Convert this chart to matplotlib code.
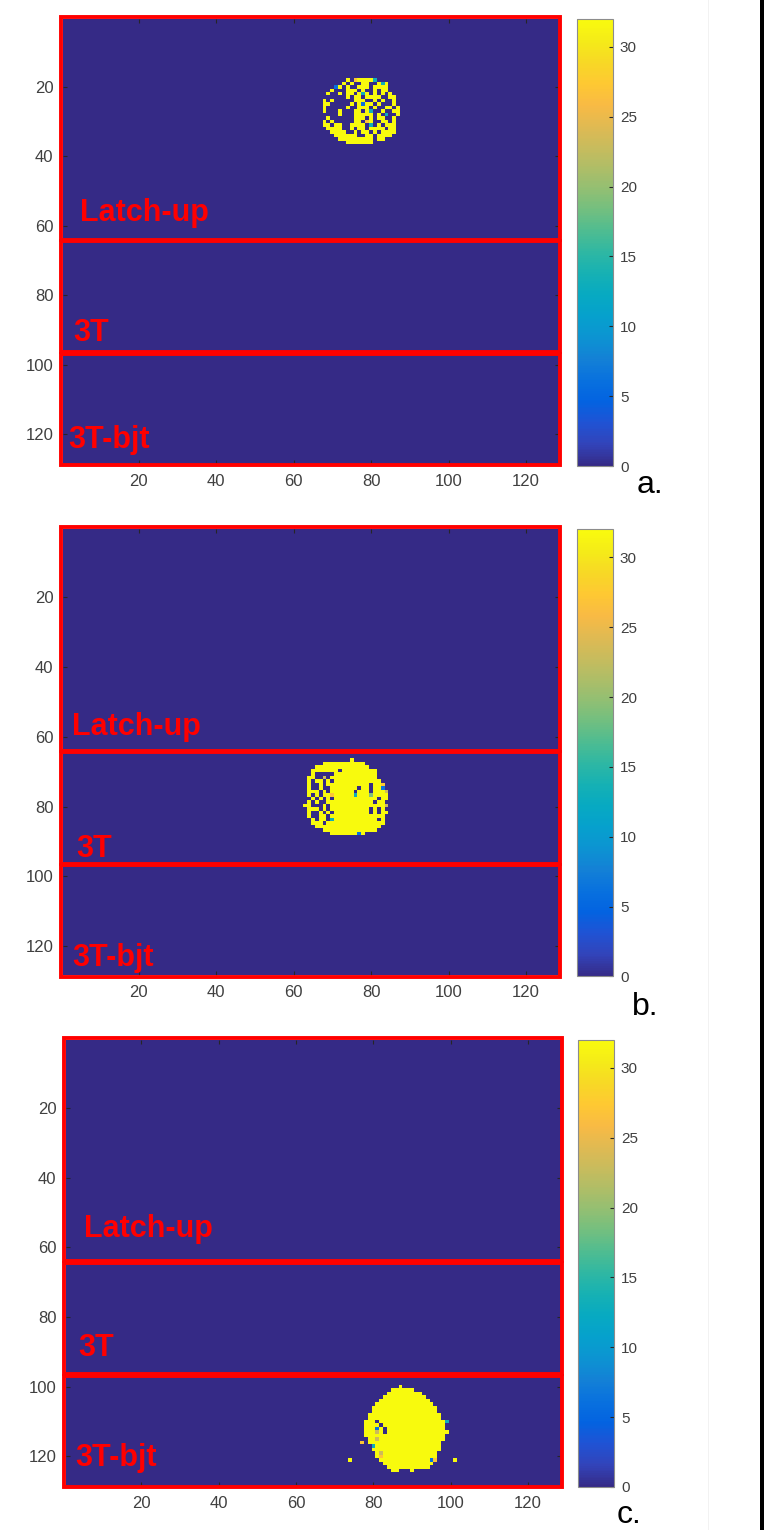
import numpy as np
import matplotlib
matplotlib.use("Agg")
from matplotlib import pyplot as plt
from matplotlib.colors import LinearSegmentedColormap
from matplotlib.patches import Rectangle

plt.rcParams["font.family"] = ["Liberation Sans", "DejaVu Sans"]

# MATLAB parula, sampled
PARULA = [
    (0.2081, 0.1663, 0.5292),
    (0.1959, 0.2645, 0.7279),
    (0.1253, 0.3242, 0.8303),
    (0.0117, 0.3875, 0.8820),
    (0.0329, 0.4430, 0.8720),
    (0.0779, 0.5040, 0.8384),
    (0.0487, 0.5772, 0.8228),
    (0.0239, 0.6287, 0.8038),
    (0.0267, 0.6642, 0.7607),
    (0.0843, 0.6928, 0.7062),
    (0.1801, 0.7177, 0.6424),
    (0.3022, 0.7376, 0.5712),
    (0.4420, 0.7481, 0.5033),
    (0.5709, 0.7485, 0.4494),
    (0.6834, 0.7435, 0.4044),
    (0.7858, 0.7356, 0.3633),
    (0.8824, 0.7274, 0.3217),
    (0.9739, 0.7314, 0.2666),
    (0.9955, 0.7861, 0.1967),
    (0.9697, 0.8481, 0.1475),
    (0.9598, 0.9218, 0.0948),
    (0.9763, 0.9831, 0.0538),
]
parula = LinearSegmentedColormap.from_list("parula", PARULA)

N_PIX = 128
V_MAX = 32
AXIS_TICKS = [20, 40, 60, 80, 100, 120]
CBAR_TICKS = [0, 5, 10, 15, 20, 25, 30]
REGION_NAMES = ["Latch-up", "3T", "3T-bjt"]
PANEL_LETTERS = ["a.", "b.", "c."]

# pixel code -> counts
PIXEL_VALUES = {".": 0, "#": 32, "o": 27, "t": 23, "g": 19, "c": 13, "b": 6}

# (first row, first col) of each spot, 1-based like the axes
BLOB_A_ORIGIN = (18, 68)
BLOB_A = [
    "......#.o####c......",
    ".....#.#..##..#c#...",
    "...b#.#..###.####...",
    "..#...###.#..#.##...",
    ".#..#.##.#c#.#.#.#..",
    "......#.##.####..##.",
    "#.#.....###..#.#..#.",
    "##.....#.#b##.#...#.",
    "#.....#..###.#..##.#",
    "#...#...##.#c..#..##",
    "....#...#####.#.c..#",
    ".#......###.#.##..#.",
    "#.#.....##.o#..##.#.",
    "##.##..####.c.#.###.",
    ".####..#.##.####.##.",
    "..####..#.##.#.####.",
    "...######..##.####..",
    "....#########.##....",
    "......#######.......",
]

BLOB_B_ORIGIN = (67, 63)
BLOB_B = [
    "............#.........",
    ".....###########......",
    "...##############.....",
    "..#######.#########...",
    "..#.....###########...",
    ".##..t.############...",
    ".#.##.#.############..",
    ".#..#.###########.##o.",
    ".#..#..#######.##.##b.",
    ".###.#.######.###.###t",
    ".#.#.##o#####c###g####",
    "..#.#.#.###########.##",
    ".#.#..############.##.",
    "##...#.##############t",
    ".###.#.##########.#.#.",
    ".#..#.#.#########.#.##",
    ".#..##.##############.",
    "..#.##.c###########.#.",
    "..###.###############.",
    "...#################..",
    ".....##############...",
    ".......#######b#......",
]

BLOB_C_ORIGIN = (100, 74)
BLOB_C = [
    ".............#",
    "...........######",
    "..........#########",
    ".........###########",
    "........#############",
    ".......###############",
    "......#################",
    "......#################",
    ".....###################",
    ".....###################",
    "....###.#################c",
    "....####.################",
    "....###b#.###############",
    "....###t#.################",
    "....#####################",
    ".....##t#################",
    "...o.###################",
    "......c#################",
    "......##################",
    ".......#t##############",
    ".......#o##############",
    "#.......#############bo....#",
    ".........#############",
    "..........###########",
    "...........##...#",
]

BLOBS = [(BLOB_A_ORIGIN, BLOB_A), (BLOB_B_ORIGIN, BLOB_B), (BLOB_C_ORIGIN, BLOB_C)]

# red boxes (row from, row to) and labels (x, y baseline) per panel
BOX_COLS = (-0.1, 128.85)
REGION_BOXES = [(-0.2, 64.0), (64.4, 96.4), (96.8, 128.9)]
LABEL_POS = [
    [(4.9, 58.7), (3.1, 93.0), (1.8, 124.0)],
    [(2.8, 59.4), (3.8, 94.6), (2.8, 125.9)],
    [(5.2, 57.0), (3.8, 91.3), (2.8, 122.8)],
]

# panel geometry in screen pixels: image left, top, width, height
FIG_W, FIG_H = 764, 1530
PANEL_BOXES = [(63, 19, 496, 445), (63, 529.5, 496, 446), (66, 1040, 495, 446)]
CBAR_BOXES = [(577, 19, 36, 447), (577, 529.5, 36, 447), (578, 1040, 36, 447)]
LETTER_POS = [(637, 493), (632, 1015), (617, 1523)]


def build_image(origin, rows):
    img = np.zeros((N_PIX, N_PIX))
    r0, c0 = origin
    for i, line in enumerate(rows):
        for j, ch in enumerate(line):
            img[r0 - 1 + i, c0 - 1 + j] = PIXEL_VALUES[ch]
    return img


def fig_rect(box):
    x, y, w, h = box
    return [x / FIG_W, 1 - (y + h) / FIG_H, w / FIG_W, h / FIG_H]


fig = plt.figure(figsize=(FIG_W / 100, FIG_H / 100), dpi=100)

for k in range(3):
    ax = fig.add_axes(fig_rect(PANEL_BOXES[k]))
    im = ax.imshow(
        build_image(*BLOBS[k]),
        cmap=parula,
        vmin=0,
        vmax=V_MAX,
        extent=(0.5, N_PIX + 0.5, N_PIX + 0.5, 0.5),
        aspect="auto",
        interpolation="nearest",
    )
    ax.set_xlim(0.5, N_PIX + 0.5)
    ax.set_ylim(N_PIX + 0.5, 0.5)
    ax.set_xticks(AXIS_TICKS)
    ax.set_yticks(AXIS_TICKS)
    ax.tick_params(
        direction="in", top=True, right=True, length=3, width=0.8,
        color="#262626", labelcolor="#404040", labelsize=12, pad=7,
    )
    for s in ax.spines.values():
        s.set_visible(False)

    for (r_from, r_to), name, (tx, ty) in zip(REGION_BOXES, REGION_NAMES, LABEL_POS[k]):
        ax.add_patch(
            Rectangle(
                (BOX_COLS[0], r_from), BOX_COLS[1] - BOX_COLS[0], r_to - r_from,
                fill=False, ec="red", lw=2.8, clip_on=False, zorder=5,
            )
        )
        ax.text(tx, ty, name, color="red", fontsize=22, fontweight="bold",
                va="baseline", ha="left", zorder=6)

    cax = fig.add_axes(fig_rect(CBAR_BOXES[k]))
    cb = fig.colorbar(im, cax=cax, ticks=CBAR_TICKS)
    cb.outline.set_edgecolor("#8c8c8c")
    cb.outline.set_linewidth(0.8)
    cax.tick_params(direction="in", length=3, width=0.8, color="#262626",
                    labelcolor="#404040", labelsize=11, pad=5)

    lx, ly = LETTER_POS[k]
    fig.text(lx / FIG_W, 1 - ly / FIG_H, PANEL_LETTERS[k], fontsize=23,
             va="baseline", ha="left", color="black")

# page edge on the right
fig.add_artist(Rectangle((708 / FIG_W, 0), 1 / FIG_W, 1, transform=fig.transFigure,
                         color="#f2f2f2", lw=0))
fig.add_artist(Rectangle((760 / FIG_W, 0), 4 / FIG_W, 1, transform=fig.transFigure,
                         color="black", lw=0))

fig.savefig("out.png", dpi=100)
